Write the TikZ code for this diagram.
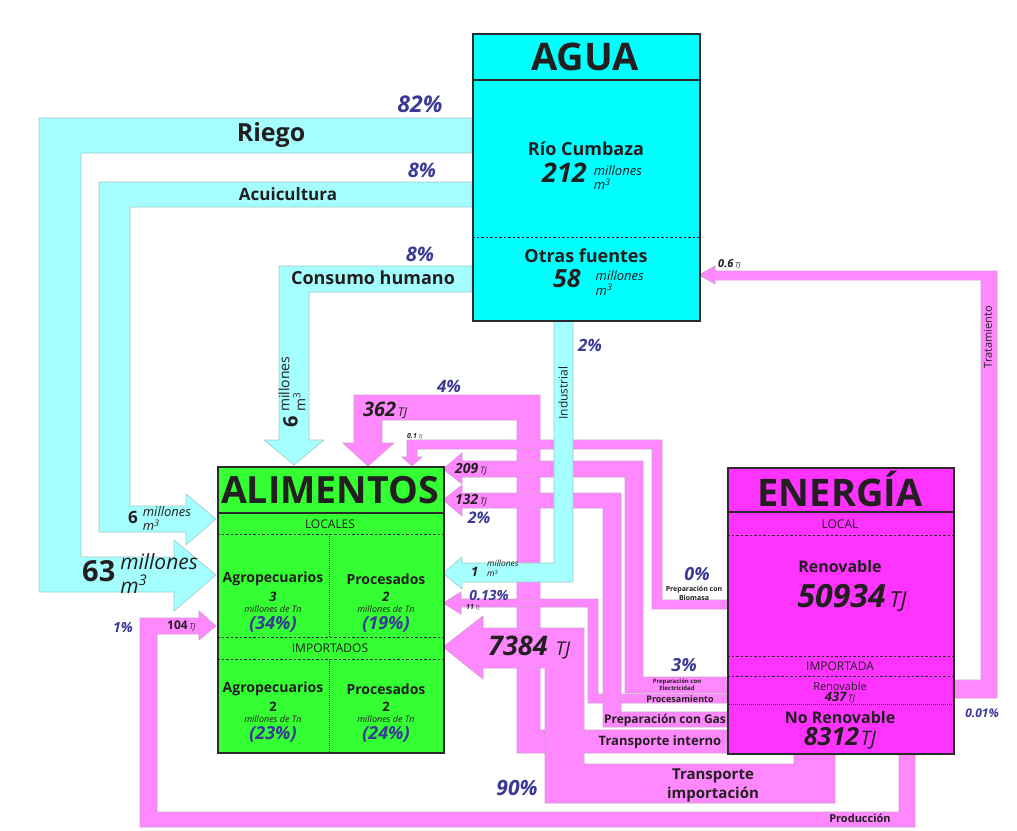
\documentclass[tikz,border=0pt]{standalone}
\usepackage{fontspec}
\setmainfont{Open Sans}
\definecolor{aguac}{HTML}{00FFFF}
\definecolor{alimc}{HTML}{33FF33}
\definecolor{energc}{HTML}{FF33FF}
\definecolor{flowpink}{HTML}{FF88FF}
\definecolor{flowcyan}{HTML}{A6FFFF}
\definecolor{pinkedge}{HTML}{D29AD2}
\definecolor{cyanedge}{HTML}{9CCACA}
\definecolor{boxedge}{HTML}{2A2A2A}
\definecolor{ink}{HTML}{231F20}
\definecolor{pctc}{HTML}{3A3A96}
\newcommand{\fs}[2]{\fontsize{#1}{#2}\selectfont}
\newcommand{\bi}{\bfseries\itshape}
\newcommand{\units}[2]{{\itshape\fs{#1}{#2}\begin{tabular}[c]{@{}l@{}}millones\\m\textsuperscript{3}\end{tabular}}}
\begin{document}
\begin{tikzpicture}[x=1pt,y=-1pt,
  pflow/.style={fill=flowpink,draw=pinkedge,line width=0.6pt},
  cflow/.style={fill=flowcyan,draw=cyanedge,line width=0.6pt},
  box/.style={draw=boxedge,line width=2pt,anchor=north west,inner sep=0pt},
  solidsep/.style={draw=boxedge,line width=1.8pt},
  dashsep/.style={draw=boxedge,line width=0.8pt,dash pattern=on 2.5pt off 2pt},
  dotsep/.style={draw=boxedge,line width=0.5pt,dash pattern=on 1pt off 1pt},
  lbl/.style={inner sep=0pt,text=ink},
  pct/.style={inner sep=0pt,text=pctc,font=\bi},
]
\useasboundingbox (0,0) rectangle (1017,830);
\fill[white] (0,0) rectangle (1017,830);

% ---------- pink flows ----------
% Produccion
\filldraw[pflow] (899,753) -- (899,812) -- (157,812) -- (157,634) -- (199,634) -- (199,640) -- (216,626) -- (199,611) -- (199,618) -- (140,618) -- (140,827) -- (915,827) -- (915,753) -- cycle;
% Tratamiento
\filldraw[pflow] (953,680) -- (981,680) -- (981,280) -- (715,280) -- (715,284) -- (699,275) -- (715,266) -- (715,271) -- (997,271) -- (997,698) -- (953,698) -- cycle;
% Transporte interno (362 TJ)
\filldraw[pflow] (727,730) -- (540,730) -- (540,395) -- (354,395) -- (354,443) -- (343,443) -- (368,466) -- (394,443) -- (382,443) -- (382,420) -- (517,420) -- (517,753) -- (727,753) -- cycle;
% Transporte importacion (7384 TJ)
\filldraw[pflow] (835,753) -- (835,803) -- (545,803) -- (545,668) -- (483,668) -- (483,679) -- (443,647) -- (483,616) -- (483,628) -- (584,628) -- (584,764) -- (794,764) -- (794,753) -- cycle;
% Biomasa (0.1 TJ)
\filldraw[pflow] (727,600) -- (662,600) -- (662,440) -- (407,440) -- (407,457) -- (402,457) -- (412,466) -- (422,457) -- (417,457) -- (417,449) -- (652,449) -- (652,609) -- (727,609) -- cycle;
% Electricidad (209 TJ)
\filldraw[pflow] (727,677) -- (643,677) -- (643,461) -- (462,461) -- (462,453) -- (443,469) -- (462,484) -- (462,477) -- (625,477) -- (625,693) -- (727,693) -- cycle;
% Procesamiento (11 TJ)
\filldraw[pflow] (727,694) -- (598,694) -- (598,599) -- (461,599) -- (461,592) -- (443,603) -- (461,614) -- (461,607) -- (588,607) -- (588,703) -- (727,703) -- cycle;
% Gas (132 TJ)
\filldraw[pflow] (727,712) -- (621,712) -- (621,493) -- (462,493) -- (462,485) -- (443,500) -- (462,516) -- (462,508) -- (603,508) -- (603,727) -- (727,727) -- cycle;

% ---------- cyan flows ----------
\filldraw[cflow] (472,118) -- (39,118) -- (39,592) -- (174,592) -- (174,611) -- (216,575) -- (174,540) -- (174,557) -- (81,557) -- (81,153) -- (472,153) -- cycle;
\filldraw[cflow] (472,182) -- (99,182) -- (99,532) -- (186,532) -- (186,545) -- (216,519) -- (186,494) -- (186,506) -- (130,506) -- (130,207) -- (472,207) -- cycle;
\filldraw[cflow] (472,266) -- (279,266) -- (279,440) -- (264,440) -- (294,465) -- (324,440) -- (309,440) -- (309,292) -- (472,292) -- cycle;
\filldraw[cflow] (554,320) -- (554,563) -- (462,563) -- (462,557) -- (443,573) -- (462,589) -- (462,582) -- (573,582) -- (573,320) -- cycle;

% ---------- boxes ----------
\node[box,fill=aguac,minimum width=227pt,minimum height=287pt] (agua) at (472,33) {};
\node[box,fill=alimc,minimum width=226pt,minimum height=286pt] (alim) at (217,466) {};
\node[box,fill=energc,minimum width=226pt,minimum height=286pt] (energ) at (727,467) {};

\draw[solidsep] (472,80) -- (699,80);
\draw[dashsep] (472,237) -- (699,237);

\draw[solidsep] (217,513) -- (443,513);
\draw[dashsep] (217,534) -- (443,534);
\draw[dashsep] (217,637) -- (443,637);
\draw[dashsep] (217,659) -- (443,659);
\draw[dotsep] (329,534) -- (329,637);
\draw[dotsep] (329,659) -- (329,752);

\draw[solidsep] (727,512) -- (953,512);
\draw[dashsep] (727,535) -- (953,535);
\draw[dashsep] (727,656) -- (953,656);
\draw[dashsep] (727,676) -- (953,676);
\draw[dotsep] (727,704) -- (953,704);

% ---------- AGUA texts ----------
\node[lbl,font=\bfseries\fs{38}{38}] (aguat) at (585,57) {AGUA};
\node[lbl,font=\bfseries\fs{18}{18}] (rio) at (586,149) {Río Cumbaza};
\node[lbl,anchor=west] (rion) at (542,178) {{\bi\fs{27}{27}212}\hspace{7pt}\units{13}{11}};
\node[lbl,font=\bfseries\fs{18}{18}] (otras) at (586,256) {Otras fuentes};
\node[lbl,anchor=west] (otrasn) at (553,284) {{\bi\fs{25}{25}58}\hspace{15pt}\units{13}{11}};

% ---------- water flow labels ----------
\node[pct,font=\bi\fs{23}{23}] (p82) at (420,104) {82\%};
\node[lbl,font=\bfseries\fs{25}{25}] (riego) at (271,135) {Riego};
\node[pct,font=\bi\fs{20}{20}] (p8a) at (422,170) {8\%};
\node[lbl,font=\bfseries\fs{17}{17}] (acui) at (288,194) {Acuicultura};
\node[pct,font=\bi\fs{20}{20}] (p8b) at (420,254) {8\%};
\node[lbl,font=\bfseries\fs{18}{18}] (consumo) at (373,278) {Consumo humano};
\node[lbl,rotate=90] (c6) at (294,392) {{\bfseries\fs{20}{20}6}\hspace{4pt}{\fs{14}{12.5}\begin{tabular}[c]{@{}l@{}}millones\\m\textsuperscript{3}\end{tabular}}};
\node[lbl,anchor=west] (a6) at (128,520) {{\bfseries\fs{17}{17}6}\hspace{5pt}\units{13}{11.5}};
\node[lbl,anchor=west] (r63) at (82,576) {{\bfseries\fs{29}{29}63}\hspace{5pt}\units{21}{17}};
\node[lbl,rotate=90,font=\fs{12}{12}] (indus) at (563,393) {Industrial};
\node[pct,font=\bi\fs{17}{17}] (p2a) at (590,345) {2\%};
\node[lbl,anchor=west,font=\bi\fs{13}{13}] (i1) at (471,572) {1};
\node[lbl,anchor=west] (i1u) at (487,570) {\units{8.5}{9.5}};

% ---------- energy flow labels ----------
\node[lbl,anchor=west] (t06) at (718,264) {{\bi\fs{11}{11}0.6}\,{\itshape\fs{7}{7}TJ}};
\node[lbl,rotate=90,font=\fs{11}{11}] (trat) at (988,337) {Tratamiento};
\node[pct,font=\bi\fs{12}{12}] (p001) at (982,713) {0.01\%};
\node[pct,font=\bi\fs{17}{17}] (p4) at (449,386) {4\%};
\node[lbl,anchor=west] (t362) at (363,410) {{\bi\fs{20}{20}362}\,{\itshape\fs{12}{12}TJ}};
\node[lbl,anchor=west] (t01) at (407,436) {{\bi\fs{7}{7}0.1}\,{\itshape\fs{5}{5}TJ}};
\node[lbl,anchor=west] (t209) at (455,469) {{\bi\fs{14}{14}209}\,{\itshape\fs{9}{9}TJ}};
\node[lbl,anchor=west] (t132) at (455,500) {{\bi\fs{14}{14}132}\,{\itshape\fs{9}{9}TJ}};
\node[pct,font=\bi\fs{16}{16}] (p2b) at (479,518) {2\%};
\node[pct,font=\bi\fs{14}{14}] (p013) at (489,596) {0.13\%};
\node[lbl,anchor=west] (t11) at (466,607.5) {{\bi\fs{7}{7}11}\,{\itshape\fs{5}{5}TJ}};
\node[lbl,anchor=west] (t7384) at (488,647) {{\bi\fs{27}{27}7384}\hspace{8pt}{\itshape\fs{19}{19}TJ}};
\node[pct,font=\bi\fs{18}{18}] (p0) at (697,574) {0\%};
\node[lbl,font=\bfseries\fs{7}{9},align=center] (biom) at (694,593) {Preparación con\\Biomasa};
\node[pct,font=\bi\fs{18}{18}] (p3) at (684,665) {3\%};
\node[lbl,font=\bfseries\fs{6}{7},align=center] (elec) at (677,685) {Preparación con\\Electricidad};
\node[lbl,font=\bfseries\fs{9}{9}] (proc) at (680,699) {Procesamiento};
\node[lbl,font=\bfseries\fs{12}{12}] (gas) at (665,720) {Preparación con Gas};
\node[lbl,font=\bfseries\fs{13}{13}] (tint) at (660,742) {Transporte interno};
\node[lbl,font=\bfseries\fs{15}{19},align=center] (timp) at (713,785) {Transporte\\importación};
\node[pct,font=\bi\fs{21}{21}] (p90) at (517,788) {90\%};
\node[lbl,font=\bfseries\fs{11}{11}] (prod) at (860,818) {Producción};
\node[pct,font=\bi\fs{14}{14}] (p1) at (123,627) {1\%};
\node[lbl,anchor=west] (t104) at (167,626) {{\bfseries\fs{12}{12}104}\,{\itshape\fs{8}{8}TJ}};

% ---------- ALIMENTOS texts ----------
\node[lbl,font=\bfseries\fs{37.5}{37.5}] (alimt) at (330,490) {ALIMENTOS};
\node[lbl,font=\fs{12}{12}] (loc) at (330,524) {LOCALES};
\node[lbl,font=\bfseries\fs{14}{14}] (ag1) at (273,579) {Agropecuarios};
\node[lbl,font=\bfseries\fs{14}{14}] (pr1) at (386,579) {Procesados};
\node[lbl,font=\bi\fs{13}{13}] (ag1n) at (273,597) {3};
\node[lbl,font=\bi\fs{13}{13}] (pr1n) at (386,597) {2};
\node[lbl,font=\itshape\fs{9}{9}] (ag1u) at (273,609) {millones de Tn};
\node[lbl,font=\itshape\fs{9}{9}] (pr1u) at (386,609) {millones de Tn};
\node[pct,font=\bi\fs{18}{18}] (ag1p) at (273,624) {(34\%)};
\node[pct,font=\bi\fs{18}{18}] (pr1p) at (386,624) {(19\%)};
\node[lbl,font=\fs{12}{12}] (imp) at (330,648) {IMPORTADOS};
\node[lbl,font=\bfseries\fs{14}{14}] (ag2) at (273,689) {Agropecuarios};
\node[lbl,font=\bfseries\fs{14}{14}] (pr2) at (386,689) {Procesados};
\node[lbl,font=\bfseries\fs{13}{13}] (ag2n) at (273,707) {2};
\node[lbl,font=\bfseries\fs{13}{13}] (pr2n) at (386,707) {2};
\node[lbl,font=\itshape\fs{9}{9}] (ag2u) at (273,719) {millones de Tn};
\node[lbl,font=\itshape\fs{9}{9}] (pr2u) at (386,719) {millones de Tn};
\node[pct,font=\bi\fs{18}{18}] (ag2p) at (273,734) {(23\%)};
\node[pct,font=\bi\fs{18}{18}] (pr2p) at (386,734) {(24\%)};

% ---------- ENERGIA texts ----------
\node[lbl,font=\bfseries\fs{38}{38}] (energt) at (840,489) {ENERGÍA};
\node[lbl,font=\fs{12}{12}] (eloc) at (840,524) {LOCAL};
\node[lbl,font=\bfseries\fs{16}{16}] (eren) at (840,566) {Renovable};
\node[lbl] (e50934) at (852,598) {{\bi\fs{32}{32}50934}\hspace{4pt}{\itshape\fs{22}{22}TJ}};
\node[lbl,font=\fs{12}{12}] (eimp) at (840,666) {IMPORTADA};
\node[lbl,font=\fs{11}{11}] (eren2) at (840,686) {Renovable};
\node[lbl] (e437) at (840,698) {{\bi\fs{13}{13}437}\,{\itshape\fs{9}{9}TJ}};
\node[lbl,font=\bfseries\fs{16}{16}] (enor) at (840,717) {No Renovable};
\node[lbl] (e8312) at (840,738) {{\bi\fs{25}{25}8312}\,{\itshape\fs{20}{20}TJ}};
\end{tikzpicture}
\end{document}
